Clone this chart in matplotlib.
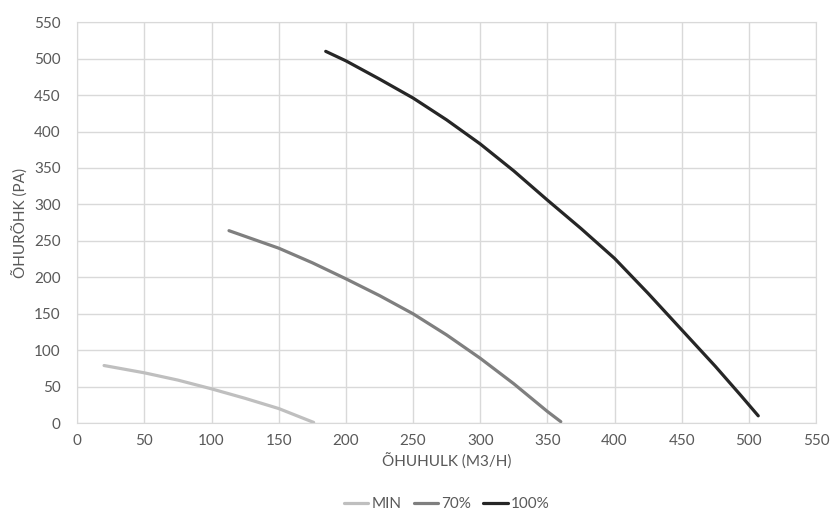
import matplotlib.pyplot as plt
from matplotlib.ticker import MultipleLocator

# donnees
min_x = [20, 50, 75, 100, 125, 150, 176]
min_y = [79, 69, 59, 47, 34, 20, 1]

p70_x = [113, 150, 175, 200, 225, 250, 275, 300, 325, 350, 360]
p70_y = [264, 240, 220, 198, 175, 150, 121, 89, 54, 16, 2]

p100_x = [185, 200, 225, 250, 275, 300, 325, 350, 375, 400, 425, 450, 475, 494, 507]
p100_y = [510, 497, 472, 446, 416, 383, 346, 306, 267, 226, 178, 128, 78, 38, 10]

plt.rcParams['font.family'] = ['Lato', 'DejaVu Sans']
gris = '#595959'

fig = plt.figure(figsize=(8.32, 5.16), dpi=100)
ax = fig.add_axes([0.0928, 0.18, 0.888, 0.777])

ax.plot(min_x, min_y, color='#bfbfbf', linewidth=2.3, label='MIN', solid_capstyle='round', solid_joinstyle='round')
ax.plot(p70_x, p70_y, color='#7f7f7f', linewidth=2.3, label='70%', solid_capstyle='round', solid_joinstyle='round')
ax.plot(p100_x, p100_y, color='#262626', linewidth=2.3, label='100%', solid_capstyle='round', solid_joinstyle='round')

ax.set_xlim(0, 550)
ax.set_ylim(0, 550)
ax.xaxis.set_major_locator(MultipleLocator(50))
ax.yaxis.set_major_locator(MultipleLocator(50))
ax.grid(True, color='#d9d9d9', linewidth=1)
ax.set_axisbelow(True)
for s in ax.spines.values():
    s.set_color('#d9d9d9')
ax.tick_params(axis='y', length=0, labelsize=11, colors=gris, pad=12)
ax.tick_params(axis='x', length=0, labelsize=11, colors=gris, pad=8)

ax.set_xlabel("ÕHUHULK (M3/H)", fontsize=11, color=gris, labelpad=4)
ax.set_ylabel("ÕHURÕHK (PA)", fontsize=11, color=gris, labelpad=4)

leg = ax.legend(loc='upper center', bbox_to_anchor=(0.5, -0.15), ncol=3, frameon=False,
                fontsize=11, handlelength=1.6, handletextpad=0.2, columnspacing=0.8)
for t in leg.get_texts():
    t.set_color(gris)

fig.savefig("out.png", dpi=100)
